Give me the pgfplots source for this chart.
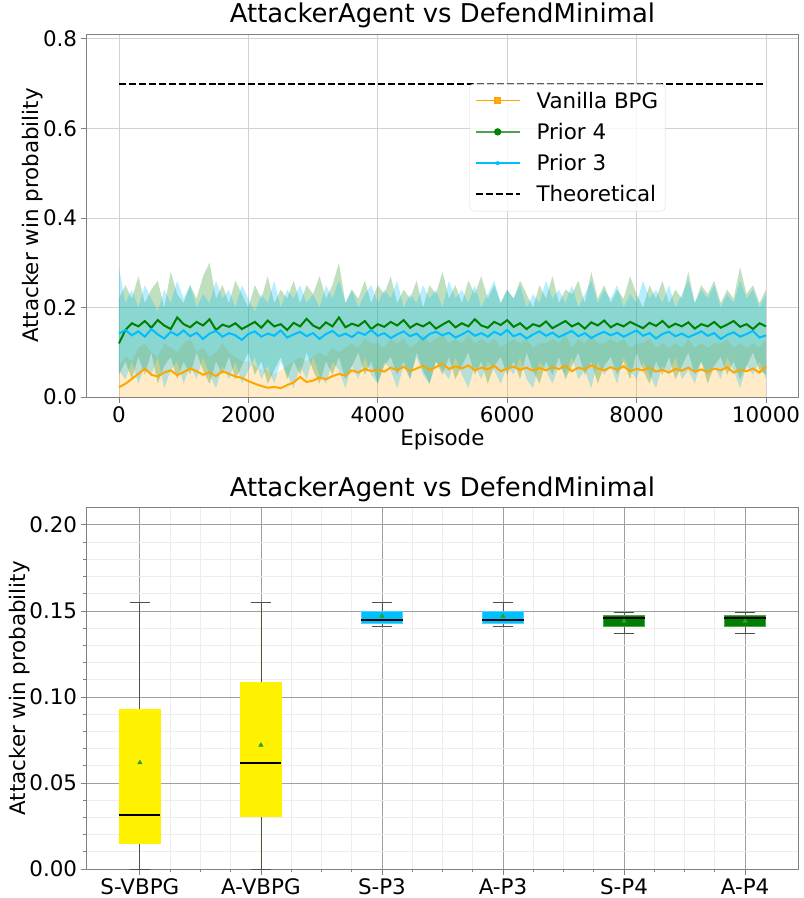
\documentclass[border=0pt]{standalone}
\usepackage{fontspec}
\setmainfont{DejaVu Sans}
\usepackage{pgfplots}
\pgfplotsset{compat=1.18}
\usepackage{pgfplotstable}
\usepgfplotslibrary{fillbetween,statistics}
\definecolor{morange}{HTML}{FFA500}
\definecolor{mgreen}{HTML}{008000}
\definecolor{msky}{HTML}{00BFFF}
\definecolor{mtri}{HTML}{2CA02C}
\definecolor{spine}{HTML}{808080}
\definecolor{lgreen}{HTML}{50A050}
\definecolor{whisk}{HTML}{505050}

\pgfplotstableread{
ep v vu g gl gu b bl bu
0 0.022 0.07 0.120 0.05 0.22 0.142 0.06 0.29
100 0.030 0.09 0.150 0.08 0.25 0.150 0.04 0.21
200 0.041 0.08 0.165 0.04 0.22 0.138 0.08 0.24
300 0.052 0.11 0.158 0.09 0.27 0.147 0.03 0.20
400 0.064 0.12 0.170 0.05 0.21 0.135 0.07 0.25
500 0.050 0.10 0.155 0.10 0.24 0.152 0.05 0.22
600 0.046 0.09 0.172 0.03 0.26 0.140 0.09 0.19
700 0.055 0.12 0.160 0.07 0.20 0.131 0.02 0.24
800 0.060 0.11 0.152 0.09 0.28 0.146 0.06 0.21
900 0.049 0.10 0.178 0.04 0.23 0.138 0.08 0.26
1000 0.056 0.12 0.163 0.08 0.21 0.149 0.03 0.22
1100 0.064 0.13 0.156 0.05 0.25 0.136 0.07 0.25
1200 0.058 0.10 0.168 0.10 0.22 0.144 0.04 0.20
1300 0.050 0.11 0.160 0.06 0.27 0.130 0.09 0.23
1400 0.055 0.09 0.174 0.03 0.30 0.142 0.05 0.21
1500 0.047 0.10 0.150 0.08 0.22 0.148 0.02 0.26
1600 0.058 0.12 0.162 0.05 0.25 0.135 0.07 0.22
1700 0.052 0.10 0.157 0.09 0.21 0.143 0.04 0.24
1800 0.046 0.09 0.165 0.04 0.26 0.138 0.08 0.20
1900 0.043 0.08 0.152 0.07 0.23 0.128 0.03 0.25
2000 0.036 0.08 0.160 0.10 0.20 0.141 0.06 0.22
2100 0.030 0.07 0.168 0.05 0.25 0.147 0.09 0.19
2200 0.025 0.06 0.155 0.08 0.22 0.135 0.04 0.23
2300 0.021 0.06 0.171 0.03 0.27 0.142 0.07 0.21
2400 0.023 0.05 0.158 0.06 0.21 0.137 0.03 0.26
2500 0.020 0.06 0.163 0.09 0.24 0.149 0.08 0.20
2600 0.027 0.07 0.150 0.04 0.22 0.133 0.05 0.24
2700 0.033 0.08 0.166 0.08 0.26 0.140 0.02 0.22
2800 0.045 0.09 0.158 0.05 0.21 0.146 0.07 0.25
2900 0.034 0.08 0.175 0.10 0.25 0.136 0.04 0.21
3000 0.037 0.09 0.160 0.06 0.23 0.143 0.09 0.23
3100 0.044 0.10 0.153 0.03 0.27 0.130 0.05 0.20
3200 0.040 0.09 0.167 0.08 0.22 0.141 0.03 0.25
3300 0.047 0.11 0.158 0.05 0.25 0.148 0.08 0.22
3400 0.052 0.10 0.178 0.09 0.30 0.136 0.06 0.26
3500 0.048 0.11 0.156 0.04 0.21 0.142 0.02 0.21
3600 0.060 0.12 0.164 0.07 0.24 0.134 0.07 0.24
3700 0.055 0.11 0.159 0.10 0.22 0.145 0.04 0.20
3800 0.063 0.13 0.170 0.05 0.26 0.139 0.09 0.23
3900 0.058 0.12 0.152 0.08 0.21 0.150 0.05 0.25
4000 0.062 0.12 0.163 0.03 0.25 0.137 0.03 0.21
4100 0.057 0.11 0.157 0.07 0.23 0.143 0.08 0.24
4200 0.066 0.13 0.168 0.09 0.27 0.132 0.06 0.22
4300 0.060 0.12 0.160 0.05 0.21 0.140 0.02 0.26
4400 0.068 0.13 0.172 0.08 0.24 0.147 0.07 0.20
4500 0.058 0.11 0.155 0.04 0.22 0.136 0.04 0.23
4600 0.064 0.12 0.164 0.10 0.26 0.142 0.09 0.21
4700 0.070 0.14 0.158 0.06 0.20 0.129 0.05 0.25
4800 0.061 0.12 0.167 0.03 0.25 0.141 0.03 0.22
4900 0.067 0.13 0.153 0.08 0.23 0.146 0.08 0.24
5000 0.075 0.14 0.162 0.05 0.28 0.138 0.06 0.20
5100 0.063 0.12 0.170 0.09 0.22 0.144 0.04 0.26
5200 0.069 0.13 0.156 0.04 0.25 0.133 0.09 0.22
5300 0.064 0.12 0.165 0.07 0.21 0.140 0.05 0.24
5400 0.071 0.14 0.158 0.10 0.26 0.148 0.02 0.21
5500 0.060 0.12 0.174 0.05 0.23 0.137 0.07 0.25
5600 0.066 0.13 0.160 0.08 0.27 0.143 0.04 0.20
5700 0.062 0.12 0.155 0.03 0.22 0.135 0.08 0.23
5800 0.070 0.13 0.168 0.07 0.25 0.146 0.06 0.26
5900 0.058 0.11 0.161 0.09 0.21 0.139 0.03 0.21
6000 0.064 0.12 0.172 0.05 0.24 0.150 0.07 0.24
6100 0.068 0.13 0.157 0.08 0.22 0.136 0.05 0.22
6200 0.061 0.12 0.165 0.04 0.26 0.142 0.09 0.25
6300 0.066 0.13 0.152 0.10 0.23 0.131 0.04 0.20
6400 0.059 0.11 0.163 0.06 0.20 0.140 0.02 0.23
6500 0.065 0.12 0.158 0.03 0.25 0.147 0.08 0.21
6600 0.060 0.12 0.169 0.08 0.22 0.137 0.06 0.26
6700 0.067 0.13 0.154 0.05 0.27 0.144 0.03 0.22
6800 0.063 0.12 0.162 0.09 0.21 0.134 0.07 0.24
6900 0.070 0.14 0.170 0.04 0.24 0.141 0.05 0.21
7000 0.058 0.11 0.158 0.07 0.23 0.148 0.09 0.25
7100 0.066 0.13 0.165 0.10 0.26 0.136 0.04 0.20
7200 0.062 0.12 0.153 0.05 0.21 0.143 0.06 0.23
7300 0.071 0.14 0.167 0.08 0.28 0.132 0.02 0.26
7400 0.064 0.12 0.160 0.03 0.22 0.140 0.08 0.21
7500 0.060 0.12 0.171 0.07 0.25 0.146 0.05 0.24
7600 0.067 0.13 0.156 0.09 0.21 0.138 0.07 0.22
7700 0.061 0.12 0.164 0.05 0.24 0.144 0.03 0.25
7800 0.069 0.13 0.158 0.08 0.22 0.135 0.09 0.20
7900 0.058 0.11 0.168 0.04 0.27 0.142 0.06 0.23
8000 0.063 0.12 0.161 0.10 0.23 0.149 0.04 0.21
8100 0.060 0.12 0.154 0.06 0.20 0.137 0.08 0.26
8200 0.066 0.13 0.166 0.03 0.25 0.143 0.05 0.22
8300 0.057 0.11 0.159 0.08 0.22 0.131 0.02 0.24
8400 0.061 0.12 0.170 0.05 0.26 0.141 0.07 0.21
8500 0.055 0.11 0.156 0.09 0.21 0.146 0.05 0.25
8600 0.063 0.12 0.164 0.04 0.24 0.136 0.09 0.20
8700 0.059 0.11 0.158 0.07 0.22 0.142 0.04 0.23
8800 0.066 0.13 0.167 0.10 0.28 0.134 0.06 0.26
8900 0.057 0.11 0.153 0.05 0.21 0.140 0.03 0.21
9000 0.062 0.12 0.163 0.08 0.25 0.147 0.08 0.24
9100 0.056 0.11 0.158 0.03 0.23 0.137 0.05 0.22
9200 0.064 0.12 0.168 0.07 0.26 0.143 0.07 0.25
9300 0.060 0.12 0.155 0.09 0.21 0.130 0.04 0.20
9400 0.067 0.13 0.162 0.05 0.24 0.139 0.09 0.23
9500 0.055 0.11 0.170 0.08 0.22 0.145 0.06 0.21
9600 0.061 0.12 0.157 0.04 0.29 0.135 0.02 0.26
9700 0.058 0.11 0.163 0.07 0.23 0.141 0.07 0.22
9800 0.064 0.12 0.152 0.10 0.25 0.148 0.05 0.24
9900 0.055 0.11 0.165 0.06 0.21 0.133 0.08 0.20
10000 0.068 0.13 0.158 0.05 0.24 0.138 0.04 0.23
}\curves

\begin{document}
\begin{tikzpicture}
\path (0,0) rectangle (805pt,898pt);
\pgfplotsset{
  every axis/.append style={
    scale only axis, width=715pt,
    font=\fontsize{21.5}{26}\selectfont,
    tick label style={font=\fontsize{21.5}{26}\selectfont},
    label style={font=\fontsize{21.5}{26}\selectfont},
    ylabel style={yshift=-7pt},
    title style={font=\fontsize{26}{31}\selectfont, yshift=-4pt},
    /pgf/number format/assume math mode=true,
    axis line style={spine},
    tick style={spine, line width=0.8pt},
    tick align=outside, tick pos=left,
    major tick length=6pt, minor tick length=3.5pt,
  }
}
% ---------------- top panel ----------------
\begin{axis}[at={(87pt,500pt)}, anchor=south west, height=365pt,
  xmin=-500, xmax=10500, ymin=0, ymax=0.811,
  xtick={0,2000,4000,6000,8000,10000}, ytick={0,0.2,0.4,0.6,0.8},
  scaled x ticks=false,
  xticklabel style={/pgf/number format/1000 sep={}},
  yticklabel style={/pgf/number format/.cd, fixed, fixed zerofill, precision=1},
  grid=major, major grid style={gray!35, line width=0.8pt},
  xlabel={Episode}, ylabel={Attacker win probability},
  title={AttackerAgent vs DefendMinimal},
  legend image code/.code={\draw[mark repeat=2, mark phase=2, #1] plot coordinates {(0pt,0pt) (22pt,0pt) (44pt,0pt)};},
  legend style={at={(0.538,0.863)}, anchor=north west, draw=gray!30, rounded corners=4pt,
    fill=white, fill opacity=0.8, text opacity=1, draw opacity=1, inner xsep=5pt, inner ysep=6pt,
    row sep=9.5pt, column sep=14pt, font=\fontsize{21.5}{26}\selectfont},
  legend cell align=left,
]
\addplot[name path=vu, draw=none, forget plot] table[x=ep,y=vu]{\curves};
\addplot[name path=vl, draw=none, forget plot] coordinates {(0,0) (10000,0)};
\addplot[morange, fill opacity=0.22, forget plot] fill between[of=vu and vl];
\addplot[name path=gu, draw=none, forget plot] table[x=ep,y=gu]{\curves};
\addplot[name path=gl, draw=none, forget plot] table[x=ep,y=gl]{\curves};
\addplot[mgreen, fill opacity=0.25, forget plot] fill between[of=gu and gl];
\addplot[name path=bu, draw=none, forget plot] table[x=ep,y=bu]{\curves};
\addplot[name path=bl, draw=none, forget plot] table[x=ep,y=bl]{\curves};
\addplot[msky, fill opacity=0.28, forget plot] fill between[of=bu and bl];

\addplot[morange, line width=2pt, forget plot] table[x=ep,y=v]{\curves};
\addplot[mgreen, line width=2pt, forget plot] table[x=ep,y=g]{\curves};
\addplot[msky, line width=2pt, forget plot] table[x=ep,y=b]{\curves};
\addplot[black, line width=2pt, dash pattern=on 7pt off 3pt, forget plot] coordinates {(0,0.7) (10000,0.7)};

\addlegendimage{draw=morange, line width=1.4pt, mark=square*, mark size=2.5pt, mark options={draw=morange, fill=morange}}
\addlegendentry{Vanilla BPG}
\addlegendimage{draw=lgreen, line width=2.2pt, mark=*, mark size=2.5pt, mark options={fill=mgreen, draw=mgreen}}
\addlegendentry{Prior 4}
\addlegendimage{draw=msky, line width=1.4pt, mark=star, mark size=2.2pt, mark options={draw=msky}}
\addlegendentry{Prior 3}
\addlegendimage{draw=black, line width=2pt, dash pattern=on 7pt off 3pt}
\addlegendentry{Theoretical}
\end{axis}
% ---------------- bottom panel ----------------
\begin{axis}[at={(87pt,26pt)}, anchor=south west, height=363pt,
  xmin=0.56, xmax=6.44, ymin=0, ymax=0.21,
  xtick={1,2,3,4,5,6}, xticklabels={S-VBPG,A-VBPG,S-P3,A-P3,S-P4,A-P4},
  ytick={0,0.05,0.1,0.15,0.2},
  minor x tick num=3, minor y tick num=4,
  grid=both, major grid style={gray!75, line width=0.8pt}, minor grid style={gray!14, line width=0.8pt},
  yticklabel style={/pgf/number format/.cd, fixed, fixed zerofill, precision=2},
  ylabel={Attacker win probability},
  title={AttackerAgent vs DefendMinimal},
  boxplot/draw direction=y, boxplot/box extend=0.34, boxplot/whisker extend=0.17,
  boxplot/every whisker/.style={draw=whisk, line width=0.8pt},
  boxplot/every median/.style={draw=black, line width=1.8pt},
]
\addplot[boxplot prepared={draw position=1, lower whisker=0, lower quartile=0.0152, median=0.0312, upper quartile=0.093, upper whisker=0.155}, fill=yellow, draw=yellow] coordinates {};
\addplot[boxplot prepared={draw position=2, lower whisker=0, lower quartile=0.0308, median=0.0618, upper quartile=0.1087, upper whisker=0.155}, fill=yellow, draw=yellow] coordinates {};
\addplot[boxplot prepared={draw position=3, lower whisker=0.141, lower quartile=0.143, median=0.1449, upper quartile=0.1499, upper whisker=0.1549}, fill=msky, draw=msky!70] coordinates {};
\addplot[boxplot prepared={draw position=4, lower whisker=0.141, lower quartile=0.143, median=0.1449, upper quartile=0.1499, upper whisker=0.1549}, fill=msky, draw=msky!70] coordinates {};
\addplot[boxplot prepared={draw position=5, lower whisker=0.137, lower quartile=0.1414, median=0.1461, upper quartile=0.1476, upper whisker=0.149}, fill=mgreen, draw=lgreen] coordinates {};
\addplot[boxplot prepared={draw position=6, lower whisker=0.137, lower quartile=0.1414, median=0.1461, upper quartile=0.1476, upper whisker=0.149}, fill=mgreen, draw=lgreen] coordinates {};
\addplot[only marks, mark=triangle*, mark size=2.6pt, color=mtri] coordinates {(1,0.0618) (2,0.072) (3,0.147) (4,0.147) (5,0.144) (6,0.144)};
\end{axis}
\end{tikzpicture}
\end{document}
